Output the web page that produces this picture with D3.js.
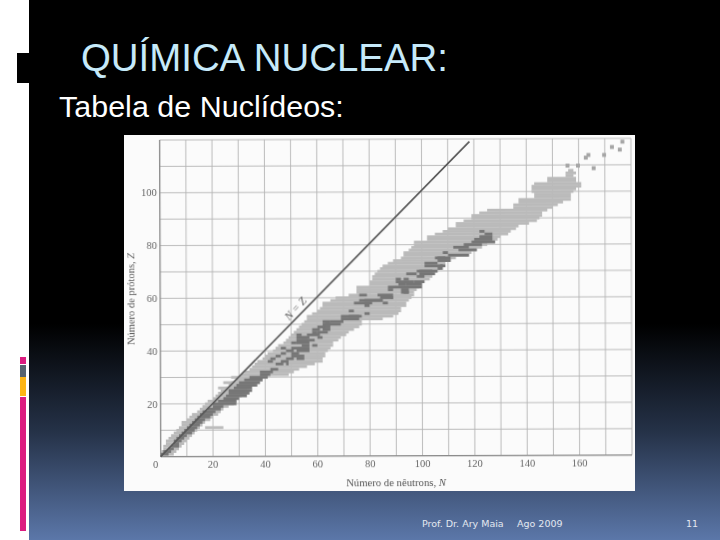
<!DOCTYPE html>
<html>
<head>
<meta charset="utf-8">
<style>
html, body { margin: 0; padding: 0; background: #fff; }
svg { display: block; }
</style>
<script src="https://cdn.jsdelivr.net/npm/d3@7"></script>
</head>
<body>
<div id="root"></div>
<script>
// faixa de nuclideos: para cada Z (1, 2, 3...) o N inicial e final
const bandFrom = [0,0,1,1,2,2,3,4,5,6,7,8,8,10,11,12,14,15,16,17,18,20,21,22,23,25,26,27,29,30,
  31,32,34,35,36,37,39,40,41,43,44,45,47,48,49,50,51,52,53,54,55,56,56,58,60,61,62,62,65,67,
  72,75,75,75,80,80,81,81,82,83,84,85,87,89,92,93,93,95,96,97,97,102,102,105,108,110,113,113,116,119,
  119,122,125,135,135,137,137,143,143,142,142,142,143,148,148,155,155,156]
const bandTo = [4,5,6,7,8,9,10,11,12,13,14,15,16,18,19,21,22,23,25,27,28,29,30,31,32,33,35,37,38,40,
  48,50,52,55,58,61,61,62,62,63,64,65,65,67,68,70,71,73,75,76,76,84,88,90,91,91,93,93,94,95,
  96,96,97,98,99,100,102,103,104,105,106,107,108,110,112,117,118,120,122,124,127,128,129,132,133,135,136,140,143,144,
  145,145,147,149,151,153,156,156,156,157,158,160,160,158,158,157,158,157]

// tiras soltas fora da faixa
const strayZ = [11, 26, 28, 30]
const strayFrom = [17, 22, 24, 27]
const strayTo = [23, 26, 29, 30]

// nuclideos estaveis (celulas escuras)
const stableZ = [1,2,3,4,5,6,7,8,9,10,11,12,13,14,15,16,17,18,19,20,21,22,23,24,25,26,27,28,29,30,31,32,33,
  35,35,36,37,37,38,39,39,40,41,42,43,44,45,45,46,47,48,48,49,50,51,51,52,53,54,
  58,59,60,60,61,62,62,63,64,65,66,67,67,68,69,70,70,71,72,73,74,75,76,77,78,79,80,81,82,83,84,85,
  41,40,38,37,36,42,43,44,45,46,47,49,50,53,55,57,58,59,61,63,65,66,69,72,75]
const stableFrom = [0,1,3,4,5,5,6,7,8,9,10,11,12,13,14,15,16,18,20,20,22,24,25,26,26,28,29,30,32,34,38,38,42,
  44,48,46,48,52,50,46,50,52,50,54,52,52,54,60,56,60,58,62,62,62,62,65,69,69,78,
  85,76,84,88,83,93,92,87,87,94,97,90,93,98,94,98,99,106,101,101,106,106,110,108,114,112,116,119,120,122,124,122,
  46,48,44,42,41,58,50,57,52,52,58,60,63,72,72,78,74,78,76,92,91,90,99,107,105]
const stableTo = [2,3,4,6,6,7,8,9,11,12,13,14,15,16,18,19,20,22,23,28,28,29,32,33,34,34,36,37,38,40,41,42,44,
  46,48,48,50,54,54,47,52,56,56,56,56,56,55,61,60,63,60,64,64,64,64,69,75,75,79,
  86,84,88,88,88,94,94,88,99,99,100,91,94,100,97,103,105,107,107,105,110,108,117,109,120,117,122,127,126,126,126,123,
  47,50,45,43,42,59,51,58,56,53,59,62,68,76,73,79,80,84,78,94,93,96,104,108,110]

// pontos isolados no topo, alem de Z = 108
const dotZ = [110, 110, 113, 114, 109, 114, 117, 116, 119]
const dotN = [155, 159, 162, 163, 165, 169, 172, 175, 176]

const xTicks = [0, 20, 40, 60, 80, 100, 120, 140, 160]
const yTicks = [20, 40, 60, 80, 100]
const xGrid = d3.range(0, 181, 10)
const yGrid = d3.range(0, 121, 10)

const w = 720
const h = 540

const x = d3.scaleLinear().domain([0, 180]).range([160.7, 632])
const y = d3.scaleLinear().domain([0, 120]).range([456.7, 140])

const svg = d3.select("#root")
    .append("svg")
    .attr("width", w)
    .attr("height", h)

const defs = svg.append("defs")

const grad = defs.append("linearGradient")
    .attr("id", "bg")
    .attr("x1", 0).attr("y1", 0).attr("x2", 0).attr("y2", 1)
grad.append("stop").attr("offset", 0.6).attr("stop-color", "#000")
grad.append("stop").attr("offset", 0.8).attr("stop-color", "#253248")
grad.append("stop").attr("offset", 1).attr("stop-color", "#5b77a9")

defs.append("filter")
    .attr("id", "scan")
    .append("feGaussianBlur")
    .attr("stdDeviation", 0.45)

// fundo do slide
svg.append("rect").attr("x", 0).attr("y", 0).attr("width", w).attr("height", h).attr("fill", "#fff")
svg.append("rect").attr("x", 29).attr("y", 0).attr("width", w - 29).attr("height", h).attr("fill", "url(#bg)")
svg.append("rect").attr("x", 17).attr("y", 53).attr("width", 12).attr("height", 30).attr("fill", "#000")

const strip = [
    { y: 357, h: 7, c: "#dc1c80" },
    { y: 365, h: 12, c: "#57636f" },
    { y: 377, h: 19, c: "#fdb515" },
    { y: 397, h: 134, c: "#dc1c80" }
]
svg.selectAll("rect.strip")
    .data(strip)
    .enter()
    .append("rect")
    .attr("class", "strip")
    .attr("x", 20)
    .attr("width", 6)
    .attr("y", d => d.y)
    .attr("height", d => d.h)
    .attr("fill", d => d.c)

svg.append("text")
    .attr("x", 81).attr("y", 71)
    .style("font", "38.4px 'Liberation Sans'")
    .attr("fill", "#c6eafa")
    .text("QUÍMICA NUCLEAR:")

svg.append("text")
    .attr("x", 59).attr("y", 116.5)
    .style("font", "26px 'Liberation Sans'")
    .style("letter-spacing", "0.05px")
    .style("font-size", "30.4px")
    .attr("fill", "#fff")
    .text("Tabela de Nuclídeos:")

const footer = [
    { t: "Prof. Dr. Ary Maia", x: 422 },
    { t: "Ago 2009", x: 517 },
    { t: "11", x: 686 }
]
svg.selectAll("text.footer")
    .data(footer)
    .enter()
    .append("text")
    .attr("class", "footer")
    .attr("x", d => d.x)
    .attr("y", 527)
    .style("font", "9.5px 'DejaVu Sans'")
    .attr("fill", "#e3e8f0")
    .text(d => d.t)

// painel digitalizado
svg.append("rect")
    .attr("x", 124).attr("y", 135).attr("width", 511).attr("height", 356)
    .attr("fill", "#fbfbfb")

const plot = svg.append("g")
    .attr("filter", "url(#scan)")
    .attr("transform", `rotate(-0.2, ${x(0)}, ${y(0)})`)

plot.selectAll("line.gx")
    .data(xGrid)
    .enter()
    .append("line")
    .attr("class", "gx")
    .attr("x1", d => x(d)).attr("x2", d => x(d))
    .attr("y1", y(120)).attr("y2", y(0))
    .attr("stroke", "#b4b4b4")
    .attr("stroke-width", 0.9)

plot.selectAll("line.gy")
    .data(yGrid)
    .enter()
    .append("line")
    .attr("class", "gy")
    .attr("x1", x(0)).attr("x2", x(180))
    .attr("y1", d => y(d)).attr("y2", d => y(d))
    .attr("stroke", "#b4b4b4")
    .attr("stroke-width", 0.9)

plot.append("line")
    .attr("x1", x(0)).attr("x2", x(0))
    .attr("y1", y(120)).attr("y2", y(0))
    .attr("stroke", "#8a8a8a").attr("stroke-width", 1.2)
plot.append("line")
    .attr("x1", x(0)).attr("x2", x(180))
    .attr("y1", y(0)).attr("y2", y(0))
    .attr("stroke", "#8a8a8a").attr("stroke-width", 1.2)

// linhas de Z: largura vem de N inicial e final
function rows(z, from, to, cls, color) {
    plot.selectAll("rect." + cls)
        .data(z.map((d, i) => ({ z: d, from: from[i], to: to[i] })))
        .enter()
        .append("rect")
        .attr("class", cls)
        .attr("x", d => x(d.from))
        .attr("width", d => x(d.to + 1) - x(d.from))
        .attr("y", d => y(d.z + 0.5))
        .attr("height", y(0) - y(1) + 0.2)
        .attr("fill", color)
}

rows(bandFrom.map((d, i) => i + 1), bandFrom, bandTo, "band", "#bababa")
rows(strayZ, strayFrom, strayTo, "stray", "#bcbcbc")
rows(stableZ, stableFrom, stableTo, "stable", "#767676")

plot.selectAll("rect.dot")
    .data(dotZ)
    .enter()
    .append("rect")
    .attr("class", "dot")
    .attr("x", (d, i) => x(dotN[i]))
    .attr("y", d => y(d + 0.5))
    .attr("width", x(1.5) - x(0))
    .attr("height", y(0) - y(1.5))
    .attr("fill", "#a6a6a6")

plot.append("line")
    .attr("x1", x(0)).attr("y1", y(0))
    .attr("x2", x(118.3)).attr("y2", y(119))
    .attr("stroke", "#585858")
    .attr("stroke-width", 1.7)

plot.append("text")
    .attr("transform", `translate(${x(51.6)}, ${y(56)}) rotate(-48)`)
    .attr("text-anchor", "middle")
    .attr("dy", "0.35em")
    .style("font", "italic 11px 'Liberation Serif'")
    .attr("fill", "#555")
    .text("N = Z")

plot.selectAll("text.tx")
    .data(xTicks)
    .enter()
    .append("text")
    .attr("class", "tx")
    .attr("x", d => d === 0 ? x(d) - 5 : x(d))
    .attr("y", y(0) + 11)
    .attr("text-anchor", "middle")
    .style("font", "10.5px 'Liberation Serif'")
    .attr("fill", "#666")
    .text(d => d)

plot.selectAll("text.ty")
    .data(yTicks)
    .enter()
    .append("text")
    .attr("class", "ty")
    .attr("x", x(0) - 3)
    .attr("y", d => y(d))
    .attr("dy", "0.35em")
    .attr("text-anchor", "end")
    .style("font", "10.5px 'Liberation Serif'")
    .attr("fill", "#666")
    .text(d => d)

const xTitle = plot.append("text")
    .attr("x", 396).attr("y", 487)
    .attr("text-anchor", "middle")
    .style("font", "10.7px 'Liberation Serif'")
    .attr("fill", "#555")
xTitle.append("tspan").text("Número de nêutrons, ")
xTitle.append("tspan").style("font-style", "italic").text("N")

const yTitle = plot.append("text")
    .attr("transform", "translate(134.5, 299) rotate(-90)")
    .attr("text-anchor", "middle")
    .style("font", "10.5px 'Liberation Serif'")
    .attr("fill", "#555")
yTitle.append("tspan").text("Número de prótons, ")
yTitle.append("tspan").style("font-style", "italic").text("Z")
</script>
</body>
</html>
